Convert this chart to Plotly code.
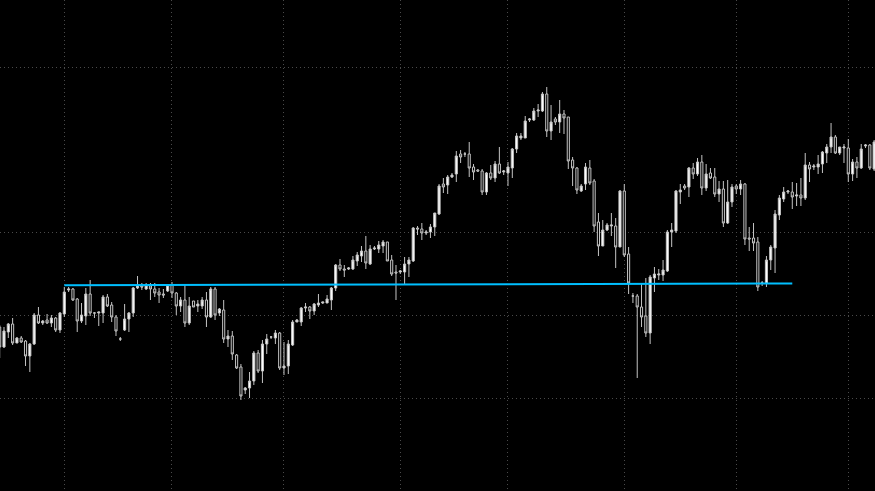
import plotly.graph_objects as go

# bar index (0 = first visible bar)
bars = list(range(204))

open_ = [173,153,168,176,157,162,159,144,156,185,177,180,177,182,170,186,210,211,201,179,
         184,206,187,187,187,203,195,183,161,170,181,187,212,214,211,214,211,208,206,209,
         215,207,194,200,177,199,194,194,200,183,211,187,190,161,164,145,133,110,112,119,
         147,129,156,163,162,167,132,134,155,178,178,192,193,189,195,197,197,200,212,235,
         231,231,231,239,244,249,236,251,251,254,258,240,228,228,228,236,239,272,271,267,
         268,273,286,316,315,323,326,346,346,346,333,330,329,308,327,322,336,328,327,332,
         351,362,362,380,380,389,389,406,369,381,378,386,383,340,332,309,316,332,319,278,
         254,270,274,274,253,309,246,204,204,193,184,167,222,225,225,229,268,269,308,314,
         313,332,326,338,312,327,323,306,311,277,298,314,311,316,262,262,258,217,217,240,
         252,285,301,308,308,304,305,302,335,333,333,336,347,353,363,347,352,352,326,338,
         332,354,355,331]
high = [175,173,177,182,163,164,160,157,187,193,180,186,185,183,188,213,213,212,202,197,
        212,220,188,188,205,206,198,185,163,196,188,213,224,217,217,217,217,212,211,216,
        218,208,203,216,203,199,200,203,208,213,213,192,200,170,169,146,136,113,128,149,
        150,160,166,164,170,168,158,160,180,181,193,197,194,197,206,198,205,213,236,241,
        235,233,244,248,254,264,255,254,259,260,258,245,235,230,243,243,273,274,277,270,
        276,287,316,322,325,327,349,350,348,358,336,331,331,328,335,339,353,330,338,352,
        367,367,384,382,392,396,408,413,395,383,400,390,383,343,333,316,337,340,321,287,
        280,277,287,282,310,316,253,207,206,216,222,225,233,231,240,270,277,310,316,316,
        333,337,342,345,336,332,332,319,319,320,316,316,320,317,273,277,263,219,244,255,
        290,305,313,310,318,317,322,347,338,336,345,349,356,377,365,353,356,361,341,343,
        356,356,356,360]
low = [142,152,162,155,157,157,134,128,155,176,175,176,173,168,167,183,208,199,168,177,
       175,184,182,174,177,193,178,164,159,169,168,183,211,210,210,200,203,197,202,208,
       202,185,188,173,175,193,188,191,173,182,180,184,157,153,140,131,100,106,102,115,
       127,117,146,161,156,130,125,126,154,178,174,188,181,185,193,196,197,190,209,229,
       223,230,230,234,238,231,235,250,247,247,239,224,200,226,216,223,238,265,260,265,
       262,264,285,307,306,322,318,337,343,323,320,328,305,305,320,318,326,325,314,322,
       347,360,362,378,379,383,388,363,360,375,367,366,331,314,306,308,310,315,268,244,
       254,269,264,232,253,243,206,197,122,173,163,156,208,220,219,228,253,267,296,310,
       303,321,324,305,309,321,303,298,273,276,293,306,305,255,249,249,209,214,213,230,
       227,280,298,306,291,294,294,300,318,330,326,327,337,347,346,345,337,318,319,322,
       331,352,330,329]
close = [153,169,176,157,162,158,144,156,185,177,179,177,182,170,187,208,211,200,179,185,
         206,187,187,188,203,194,183,169,161,181,187,212,214,213,215,211,207,205,205,215,
         207,194,200,177,194,193,196,200,183,211,185,191,161,164,146,132,104,112,119,147,
         129,156,161,163,167,132,134,156,178,180,192,193,189,196,197,198,201,212,235,231,
         230,232,240,245,249,237,251,252,255,258,239,226,227,229,236,240,272,271,267,268,
         273,287,314,313,323,325,344,343,346,332,328,329,308,327,322,336,327,329,333,351,
         364,364,379,381,389,390,406,369,378,378,386,382,339,332,310,314,333,317,274,254,
         270,275,275,253,309,245,217,204,193,183,167,223,226,226,230,268,270,309,310,312,
         332,326,338,312,326,322,306,311,277,298,313,311,316,261,261,257,213,217,240,253,
         286,302,308,309,303,305,302,335,331,334,336,348,353,363,347,353,353,326,338,332,
         351,355,332,358]

# price-grid levels and time-grid bars
price_grid = [433, 268, 185, 102]
time_grid = [15, 40, 66, 93, 118, 145, 171, 197]

# trend line (start bar, end bar) and its prices
line_bars = [15, 184]
line_prices = [214.8, 216.5]

fig = go.Figure()
fig.add_trace(go.Candlestick(
    x=bars, open=open_, high=high, low=low, close=close,
    increasing=dict(line=dict(color="#c4c4c4", width=1), fillcolor="#ffffff"),
    decreasing=dict(line=dict(color="#c4c4c4", width=1), fillcolor="#000000"),
    whiskerwidth=0, showlegend=False, hoverinfo="skip",
))
fig.add_trace(go.Scatter(
    x=line_bars, y=line_prices, mode="lines",
    line=dict(color="#00bfff", width=2), showlegend=False, hoverinfo="skip",
))

grid = dict(showgrid=True, gridcolor="#4a4a4a", griddash="1px,3px", gridwidth=1,
            zeroline=False, showline=False, ticks="", showticklabels=False)

fig.update_layout(
    width=875, height=491,
    margin=dict(l=0, r=0, t=0, b=0),
    paper_bgcolor="#000000", plot_bgcolor="#000000",
    showlegend=False,
    xaxis=dict(range=[0.073, 203.2], tickvals=time_grid,
               rangeslider=dict(visible=False), **grid),
    yaxis=dict(range=[9, 500], tickvals=price_grid, **grid),
)

fig.write_html(
    "out.html",
    config={"displayModeBar": False, "staticPlot": True},
    post_script="document.body.style.margin='0';document.body.style.background='#000';",
)
